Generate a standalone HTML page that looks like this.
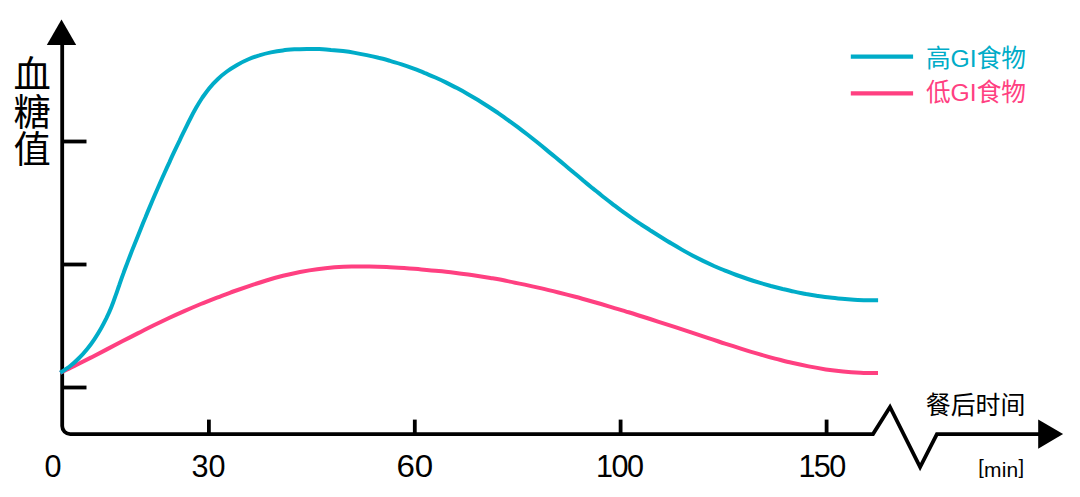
<!DOCTYPE html>
<html lang="zh">
<head>
<meta charset="utf-8">
<title>血糖值 - 餐后时间</title>
<style>
html,body{margin:0;padding:0;background:#fff;}
body{width:1080px;height:497px;overflow:hidden;font-family:"Liberation Sans",sans-serif;}
svg{display:block;}
text{font-family:"Liberation Sans","Noto Sans CJK SC",sans-serif;fill:#000;}
</style>
</head>
<body>
<svg width="1080" height="497" viewBox="0 0 1080 497">
<rect width="1080" height="497" fill="#fff"/>

<g fill="none" stroke="#000" stroke-width="3.8" stroke-linejoin="miter">
<path d="M62.2,44 V426.1 A8,8 0 0 0 70.2,434.1 H873 L890,407 L920.1,467.1 L936.9,434.1 H1040"/>
<path d="M62.2,141.5 H86.5"/>
<path d="M62.2,264.5 H86.5"/>
<path d="M62.2,387.5 H86.5"/>
<path d="M208.9,434.1 V419.6"/>
<path d="M414.8,434.1 V419.6"/>
<path d="M620.6,434.1 V419.6"/>
<path d="M826.6,434.1 V419.6"/>
</g>
<path d="M61.5,19.4 L76.2,44.9 H46.8 Z" fill="#000"/>
<path d="M1063.1,434 L1038.2,419.6 V448.8 Z" fill="#000"/>
<path d="M60.2,372.8C62.8,371.5 70.6,367.8 75.8,365.2C81.0,362.6 86.2,360.0 91.3,357.4C96.5,354.7 101.7,352.0 106.8,349.4C112.0,346.7 117.1,344.0 122.2,341.3C127.4,338.7 132.5,336.0 137.7,333.4C142.9,330.7 148.1,328.1 153.3,325.5C158.5,323.0 163.7,320.5 169.0,318.0C174.2,315.5 179.5,313.1 184.8,310.8C190.1,308.5 195.5,306.2 200.8,304.0C206.2,301.8 211.6,299.7 217.0,297.6C222.4,295.5 227.9,293.5 233.3,291.5C238.8,289.6 244.3,287.7 249.7,285.8C255.2,284.0 260.8,282.2 266.3,280.5C271.8,278.8 277.4,277.2 283.0,275.8C288.7,274.4 294.3,273.1 300.0,272.0C305.7,270.9 311.4,269.9 317.2,269.2C322.9,268.4 328.7,267.8 334.5,267.3C340.2,266.9 346.0,266.6 351.8,266.5C357.6,266.3 363.4,266.4 369.2,266.5C375.0,266.6 380.8,266.8 386.6,267.1C392.4,267.3 398.2,267.7 404.0,268.1C409.8,268.5 415.6,268.9 421.3,269.4C427.1,269.9 432.9,270.4 438.7,271.0C444.5,271.6 450.3,272.3 456.1,273.0C461.8,273.7 467.6,274.5 473.3,275.3C479.1,276.2 484.8,277.1 490.5,278.0C496.2,279.0 502.0,280.0 507.6,281.1C513.3,282.2 519.0,283.4 524.7,284.6C530.3,285.8 536.0,287.1 541.6,288.4C547.3,289.7 552.9,291.1 558.5,292.5C564.1,293.9 569.7,295.4 575.3,296.8C580.9,298.3 586.5,299.9 592.1,301.5C597.7,303.0 603.2,304.6 608.8,306.3C614.4,307.9 619.9,309.6 625.5,311.3C631.0,313.0 636.6,314.7 642.1,316.5C647.6,318.2 653.2,320.0 658.7,321.8C664.2,323.5 669.8,325.3 675.3,327.2C680.8,329.0 686.3,330.8 691.9,332.6C697.4,334.4 702.9,336.3 708.4,338.1C714.0,339.9 719.5,341.8 725.0,343.6C730.5,345.3 736.1,347.1 741.6,348.8C747.1,350.6 752.7,352.3 758.3,353.9C763.8,355.5 769.4,357.1 775.0,358.6C780.6,360.0 786.2,361.5 791.8,362.8C797.4,364.1 803.1,365.3 808.7,366.4C814.4,367.5 820.1,368.5 825.8,369.4C831.5,370.2 837.3,370.9 843.0,371.5C848.8,372.1 854.6,372.5 860.4,372.8C866.2,373.1 875.1,373.1 878.0,373.1" fill="none" stroke="#FF4081" stroke-width="4.0"/>
<path d="M60.2,372.8C61.9,371.7 67.0,368.5 70.2,366.0C73.3,363.6 76.3,360.9 79.1,358.0C82.0,355.2 84.6,352.2 87.2,349.0C89.7,345.9 92.1,342.6 94.3,339.3C96.6,335.9 98.7,332.5 100.7,329.0C102.7,325.5 104.5,322.0 106.3,318.4C108.0,314.8 109.7,311.1 111.2,307.4C112.7,303.7 114.1,299.9 115.4,296.1C116.8,292.4 118.0,288.5 119.4,284.7C120.7,280.9 122.0,277.2 123.4,273.4C124.7,269.6 126.2,265.9 127.6,262.1C129.0,258.4 130.5,254.6 131.9,250.9C133.4,247.1 134.9,243.4 136.4,239.7C137.9,235.9 139.4,232.2 140.9,228.5C142.4,224.7 143.9,221.0 145.5,217.3C147.0,213.5 148.5,209.8 150.1,206.1C151.7,202.4 153.2,198.7 154.8,195.0C156.4,191.3 158.0,187.7 159.6,184.0C161.2,180.3 162.8,176.7 164.5,173.0C166.1,169.4 167.8,165.7 169.5,162.1C171.1,158.4 172.8,154.8 174.5,151.2C176.2,147.5 177.9,143.9 179.7,140.3C181.4,136.6 183.2,133.0 185.0,129.4C186.8,125.7 188.5,122.1 190.4,118.5C192.2,114.9 194.1,111.3 196.1,107.8C198.1,104.3 200.2,100.9 202.4,97.5C204.7,94.2 207.0,91.0 209.5,87.9C212.1,84.8 214.8,81.9 217.7,79.2C220.6,76.4 223.7,73.8 226.9,71.5C230.1,69.1 233.6,66.9 237.1,64.9C240.6,62.9 244.2,61.1 247.9,59.5C251.6,57.9 255.4,56.5 259.3,55.4C263.1,54.2 267.0,53.2 270.9,52.4C274.8,51.6 278.8,50.9 282.8,50.4C286.7,49.9 290.8,49.6 294.8,49.3C298.8,49.1 302.8,49.0 306.8,48.9C310.9,48.9 314.9,49.0 318.9,49.1C322.9,49.3 327.0,49.5 331.0,49.9C335.0,50.2 339.0,50.6 343.0,51.1C346.9,51.6 350.9,52.2 354.9,52.9C358.8,53.5 362.8,54.3 366.7,55.1C370.7,55.9 374.6,56.8 378.5,57.8C382.4,58.7 386.2,59.8 390.1,60.9C394.0,62.0 397.8,63.2 401.6,64.4C405.5,65.7 409.3,67.0 413.0,68.4C416.8,69.8 420.6,71.2 424.3,72.8C428.0,74.3 431.7,75.9 435.4,77.5C439.0,79.1 442.7,80.8 446.3,82.6C449.9,84.4 453.5,86.2 457.0,88.1C460.6,90.0 464.1,91.9 467.6,93.9C471.1,95.9 474.5,97.9 478.0,100.0C481.4,102.1 484.8,104.3 488.2,106.5C491.5,108.6 494.9,110.9 498.2,113.1C501.5,115.4 504.8,117.7 508.1,120.1C511.3,122.4 514.6,124.8 517.8,127.2C521.0,129.6 524.2,132.1 527.4,134.5C530.6,137.0 533.7,139.5 536.9,142.0C540.0,144.5 543.1,147.1 546.2,149.6C549.3,152.1 552.4,154.7 555.5,157.3C558.6,159.9 561.7,162.4 564.8,165.0C567.9,167.6 570.9,170.2 574.0,172.8C577.1,175.3 580.2,177.9 583.2,180.5C586.3,183.1 589.4,185.6 592.5,188.2C595.7,190.7 598.8,193.2 601.9,195.7C605.1,198.2 608.2,200.7 611.4,203.1C614.6,205.6 617.8,208.0 621.0,210.4C624.3,212.7 627.5,215.1 630.8,217.4C634.1,219.7 637.5,221.9 640.8,224.2C644.2,226.4 647.6,228.6 650.9,230.8C654.3,232.9 657.8,235.1 661.2,237.2C664.6,239.3 668.0,241.4 671.5,243.5C674.9,245.5 678.4,247.6 681.8,249.6C685.3,251.6 688.8,253.5 692.4,255.4C695.9,257.3 699.5,259.1 703.1,260.9C706.7,262.6 710.3,264.3 714.0,266.0C717.7,267.6 721.4,269.2 725.1,270.7C728.8,272.2 732.6,273.6 736.4,275.0C740.1,276.4 743.9,277.7 747.8,279.0C751.6,280.3 755.4,281.5 759.3,282.7C763.1,283.8 767.0,284.9 770.9,286.0C774.8,287.0 778.7,288.0 782.6,289.0C786.5,289.9 790.4,290.8 794.3,291.6C798.3,292.5 802.2,293.2 806.1,294.0C810.1,294.7 814.1,295.3 818.0,295.9C822.0,296.5 826.0,297.1 830.0,297.5C833.9,298.0 837.9,298.4 841.9,298.8C845.9,299.2 849.9,299.5 854.0,299.7C858.0,299.9 862.0,300.1 866.0,300.2C870.0,300.3 876.1,300.3 878.1,300.3" fill="none" stroke="#00ACC8" stroke-width="4.0"/>
<path d="M850.8,56.6 H913.1" stroke="#00ACC8" stroke-width="4.2" fill="none"/>
<path d="M850.8,93.45 H913.1" stroke="#FF4081" stroke-width="4.2" fill="none"/>
<text x="925.9" y="66.85" font-size="24.7" style="fill:#00ACC8">高GI食物</text>
<text x="925.9" y="101.05" font-size="24.7" style="fill:#FF4081">低GI食物</text>
<g font-size="37.3">
<text x="13.4" y="88.1">血</text>
<text x="13.4" y="125.6">糖</text>
<text x="13.4" y="162.8">值</text>
</g>
<text x="925.75" y="414.4" font-size="24.9">餐后时间</text>
<g font-size="30.6" text-anchor="middle">
<text x="53.0" y="477.2">0</text>
<text x="208.6" y="477.2">30</text>
<text x="414.8" y="477.2" textLength="36.8" lengthAdjust="spacingAndGlyphs">60</text>
<text x="619.2" y="477.2" letter-spacing="-1.6">100</text>
<text x="821.5" y="477.2" letter-spacing="-1.6">150</text>
</g>
<text x="978.2" y="477.1" font-size="21" letter-spacing="0.2"><tspan font-size="20" dy="-2.7">[</tspan><tspan dy="2.7">min</tspan><tspan font-size="20" dy="-2.7">]</tspan></text>
</svg>
</body>
</html>
